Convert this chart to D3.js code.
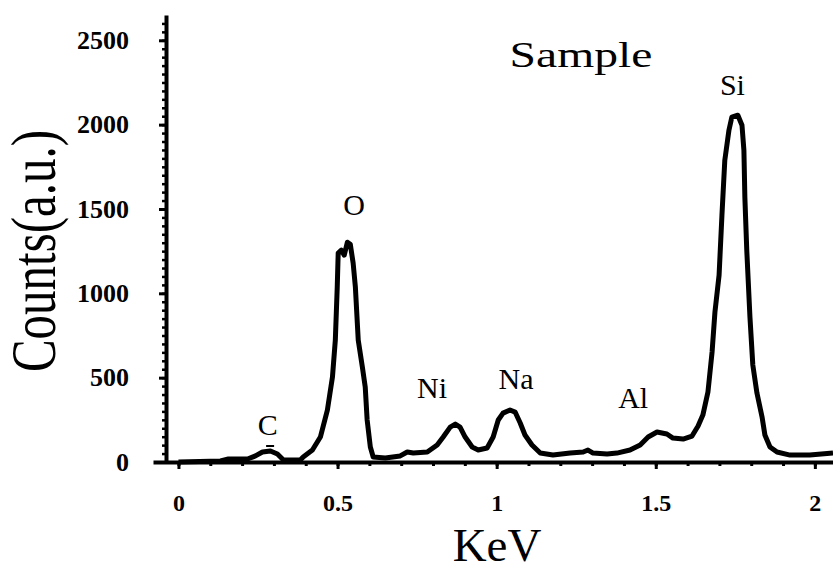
<!DOCTYPE html>
<html>
<head>
<meta charset="utf-8">
<script src="https://cdn.jsdelivr.net/npm/d3@7"></script>
<style>
  body { margin: 0; background: #fff; }
  svg text { font-family: "Liberation Serif", "Times New Roman", serif; fill: #000; }
</style>
</head>
<body>
<script>
//
// data (keV, counts)
//
var energy = [
  0.000, 0.132, 0.157, 0.217, 0.242, 0.264, 0.289, 0.311, 0.330, 0.383,
  0.392, 0.421, 0.446, 0.468, 0.484, 0.493, 0.499, 0.502, 0.512, 0.521,
  0.531, 0.540, 0.549, 0.556, 0.565, 0.578, 0.587, 0.593, 0.603, 0.612,
  0.650, 0.697, 0.719, 0.738, 0.782, 0.813, 0.832, 0.854, 0.870, 0.885,
  0.901, 0.923, 0.942, 0.970, 0.989, 1.005, 1.020, 1.042, 1.058, 1.074,
  1.089, 1.111, 1.137, 1.177, 1.231, 1.272, 1.287, 1.303, 1.347, 1.378,
  1.419, 1.451, 1.476, 1.504, 1.535, 1.554, 1.586, 1.614, 1.633, 1.648,
  1.664, 1.677, 1.686, 1.699, 1.708, 1.717, 1.730, 1.739, 1.758, 1.771,
  1.777, 1.780, 1.786, 1.796, 1.805, 1.818, 1.834, 1.843, 1.859, 1.881,
  1.922, 1.984, 2.057
];
var counts = [
  0, 6, 18, 18, 36, 59, 65, 47, 12, 12,
  30, 71, 148, 308, 504, 723, 1037, 1238, 1256, 1226,
  1303, 1291, 1179, 1037, 723, 563, 444, 249, 89, 30,
  24, 36, 59, 53, 59, 101, 148, 207, 225, 207,
  148, 89, 71, 83, 148, 249, 290, 308, 296, 231,
  160, 101, 53, 41, 53, 59, 71, 53, 47, 53,
  71, 101, 148, 178, 166, 142, 136, 154, 213, 278,
  415, 652, 889, 1108, 1463, 1789, 1967, 2044, 2056, 1996,
  1848, 1570, 1256, 859, 575, 409, 267, 160, 89, 59,
  41, 41, 53
];

var xTickValues = [0, 0.5, 1, 1.5, 2];
var xTickLabels = ["0", "0.5", "1", "1.5", "2"];
var yTickValues = [0, 500, 1000, 1500, 2000, 2500];
var yTickLabels = ["0", "500", "1000", "1500", "2000", "2500"];

var peakNames = ["C", "O", "Ni", "Na", "Al", "Si"];

//
// layout
//
var width = 833, height = 572;
var plotLeft = 153, plotRight = 833, plotTop = 15, plotBottom = 462;
var yAxisX = 166;
// label anchors in data units (keV, counts), same order as peakNames
var labelSpots = [[0.281, 160], [0.552, 1464], [0.797, 379], [1.061, 433], [1.429, 320], [1.741, 2176]];
var titleSpot = [1.265, 2342];
var markSpot = [0.288, 95];

var svg = d3.select("body").append("svg")
  .attr("width", width)
  .attr("height", height)
  ;

var x = d3.scaleLinear().domain([-0.08, 2.057]).range([plotLeft, plotRight]);
var y = d3.scaleLinear().domain([0, 2650]).range([plotBottom, plotTop]);

//
// axes
//
styleAxis = function(g, w, size) {
  g.selectAll(".domain").attr("stroke-width", w);
  g.selectAll(".tick line").attr("stroke-width", 3);
  g.selectAll(".tick text")
    .attr("font-size", size)
    .attr("font-weight", "bold");
}

// minor ticks first, no labels
svg.append("g")
  .attr("transform", "translate(0," + plotBottom + ")")
  .call(d3.axisBottom(x).tickValues(d3.range(0, 2.05, 0.1)).tickSize(4).tickSizeOuter(0).tickFormat(""))
  .call(function(g) { g.select(".domain").remove(); g.selectAll(".tick line").attr("stroke-width", 3); })
  ;
var gx = svg.append("g")
  .attr("transform", "translate(0," + plotBottom + ")")
  .call(d3.axisBottom(x).tickValues(xTickValues).tickSize(7).tickSizeOuter(0).tickPadding(25)
    .tickFormat(function(d, i) { return xTickLabels[i]; }))
  ;
styleAxis(gx, 4, 24);

svg.append("g")
  .attr("transform", "translate(" + yAxisX + ",0)")
  .call(d3.axisLeft(y).tickValues(d3.range(0, 2650, 50)).tickSize(4).tickSizeOuter(0).tickFormat(""))
  .call(function(g) { g.select(".domain").remove(); g.selectAll(".tick line").attr("stroke-width", 2.5); })
  ;
var gy = svg.append("g")
  .attr("transform", "translate(" + yAxisX + ",0)")
  .call(d3.axisLeft(y).tickValues(yTickValues).tickSize(7).tickSizeOuter(0).tickPadding(30)
    .tickFormat(function(d, i) { return yTickLabels[i]; }))
  ;
styleAxis(gy, 4, 26);

//
// spectrum
//
var line = d3.line()
  .x(function(d) { return x(d[0]); })
  .y(function(d) { return y(d[1]); })
  ;
svg.append("path")
  .datum(d3.zip(energy, counts))
  .attr("d", line)
  .attr("fill", "none")
  .attr("stroke", "#000")
  .attr("stroke-width", 5)
  .attr("stroke-linejoin", "round")
  ;

//
// texts
//
svg.selectAll(".peak-label")
  .data(peakNames)
  .enter().append("text")
  .attr("class", "peak-label")
  .attr("x", function(d, i) { return x(labelSpots[i][0]); })
  .attr("y", function(d, i) { return y(labelSpots[i][1]); })
  .attr("text-anchor", "middle")
  .attr("font-size", 30)
  .text(function(d) { return d; })
  ;

svg.append("line")
  .attr("x1", x(markSpot[0]) - 4)
  .attr("x2", x(markSpot[0]) + 4)
  .attr("y1", y(markSpot[1]))
  .attr("y2", y(markSpot[1]))
  .attr("stroke", "#000")
  .attr("stroke-width", 2)
  ;

svg.append("text")
  .attr("transform", "translate(" + x(titleSpot[0]) + "," + y(titleSpot[1]) + ") scale(1.36,1)")
  .attr("text-anchor", "middle")
  .attr("font-size", 35)
  .text("Sample")
  ;

svg.append("text")
  .attr("x", (plotLeft + plotRight) / 2 + 4)
  .attr("y", 561)
  .attr("text-anchor", "middle")
  .attr("font-size", 47)
  .text("KeV")
  ;

svg.append("text")
  .attr("transform", "translate(55,251) scale(1.29,1) rotate(-90)")
  .attr("text-anchor", "middle")
  .attr("font-size", 49)
  .text("Counts(a.u.)")
  ;
</script>
</body>
</html>
